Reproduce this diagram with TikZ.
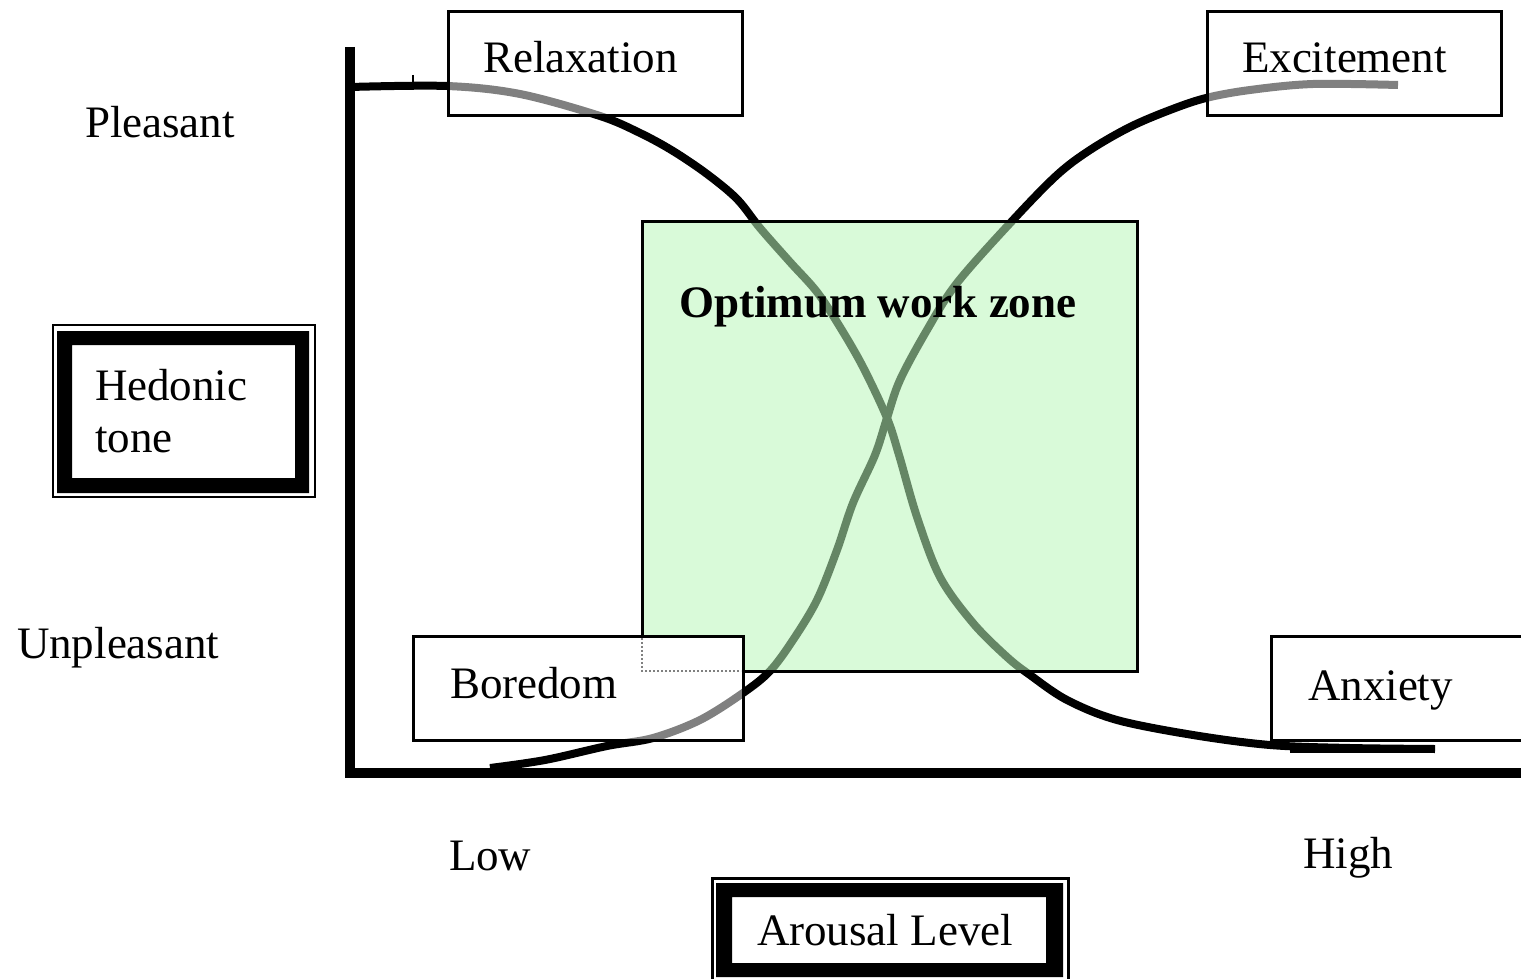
\documentclass[tikz,border=0pt]{standalone}
\usepackage{fontspec}
\setmainfont{Liberation Serif}
\newcommand\lbfont{\fontsize{45}{52}\selectfont}
\definecolor{zonegreen}{RGB}{185,245,185}
\tikzset{
  box/.style={draw, line width=3pt, fill=white, fill opacity=0.5, text opacity=1, inner sep=0pt, outer sep=0pt},
  lbl/.style={font=\lbfont, anchor=base west, inner sep=0pt, outer sep=0pt},
  curve/.style={line width=8pt, line join=round, line cap=butt},
  axis/.style={line width=10pt, line cap=butt},
}
\begin{document}
\begin{tikzpicture}[x=1pt,y=-1pt]
\useasboundingbox (0,0) rectangle (1521,979);
\begin{scope}
\clip (0,0) rectangle (1521,979);
% axes
\draw[axis] (350,47) -- (350,778);
\draw[axis] (345,773) -- (1521,773);
% curves
\draw[curve] plot[smooth, tension=0.55] coordinates {
 (350,87) (447,86) (520,94) (600,116) (640,133) (673,151) (707,174) (737,199)
 (760,228) (790,262) (817,292) (840,327) (863,367) (887,418) (899,455)
 (917,517) (940,577) (973,623) (1007,657) (1030,675) (1067,700) (1117,720)
 (1193,735) (1270,745) (1350,748) (1435,749)};
\draw[line width=4pt] (1290,751) -- (1435,751);
\draw[curve] plot[smooth, tension=0.55] coordinates {
 (490,768) (545,760) (607,746) (653,738) (700,720) (743,693) (770,671)
 (793,640) (817,600) (837,550) (853,503) (875,455) (887,418) (900,380)
 (927,330) (957,283) (1013,220) (1057,175) (1090,150)
 (1130,127) (1170,110) (1206,98) (1250,90) (1313,84) (1398,85)};
\draw[line width=2pt] (413,75) -- (413,83);
% optimum work zone
\fill[zonegreen, fill opacity=0.55, even odd rule] (642,221) rectangle (1137,671) (642,636) rectangle (743,671);
\draw[line width=3pt] (642,636) -- (642,221) -- (1137,221) -- (1137,671) -- (743,671);
\draw[line width=2pt, dotted] (642,638) -- (642,671) -- (741,671);
% boxes
\node[box, minimum width=294pt, minimum height=104pt] (relaxbox) at (595,64) {};
\node[box, minimum width=294pt, minimum height=104pt] (excitebox) at (1354,64) {};
\node[box, minimum width=330pt, minimum height=104pt] (boredbox) at (578,688) {};
\node[box, minimum width=290pt, minimum height=104pt] (anxbox) at (1416,688) {};
% hedonic tone frame
\draw[line width=2.5pt] (53,325) rectangle (315,497);
\fill[even odd rule] (57,331) rectangle (309,493) (72,345) rectangle (295,478);
% arousal level frame
\draw[line width=3pt] (712,878) rectangle (1068,990);
\fill[even odd rule] (716,883) rectangle (1063,977) (732,897) rectangle (1046,963);
\end{scope}
% labels
\node[lbl] (relax) at (483,73) {Relaxation};
\node[lbl] (excite) at (1242,73) {Excitement};
\node[lbl] (pleasant) at (85,138) {Pleasant};
\node[lbl] (hed1) at (95,400) {Hedonic};
\node[lbl] (hed2) at (95,452) {tone};
\node[lbl] (unpleasant) at (17,658) {Unpleasant};
\node[lbl] (bored) at (450,698) {Boredom};
\node[lbl] (anx) at (1308,700) {Anxiety};
\node[lbl, font=\lbfont\bfseries] (zone) at (679,317) {Optimum work zone};
\node[lbl] (low) at (449,870) {Low};
\node[lbl] (high) at (1303,868) {High};
\node[lbl] (arousal) at (757,945) {Arousal Level};
\end{tikzpicture}
\end{document}
